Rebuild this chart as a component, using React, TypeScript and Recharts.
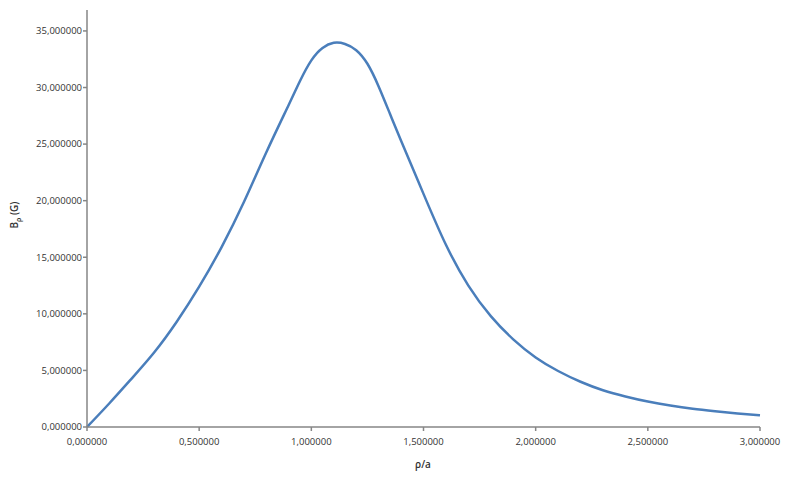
import { LineChart, Line, XAxis, YAxis, Label } from "recharts";

// ρ/a positions and the field B_ρ (G)
const rhoOverA = [
  0, 0.1, 0.2, 0.3, 0.4, 0.5, 0.6, 0.7, 0.8, 0.9, 0.95, 1.0, 1.05, 1.1, 1.15,
  1.2, 1.25, 1.3, 1.35, 1.4, 1.5, 1.6, 1.7, 1.8, 1.9, 2.0, 2.1, 2.2, 2.3, 2.4,
  2.5, 2.6, 2.7, 2.8, 2.9, 3.0,
];
const bRho = [
  0, 2.1, 4.3, 6.6, 9.3, 12.4, 15.9, 19.9, 24.3, 28.5, 30.6, 32.4, 33.5, 33.95,
  33.85, 33.3, 32.1, 30.1, 27.7, 25.3, 20.6, 16.1, 12.5, 9.8, 7.75, 6.15, 4.95,
  4.0, 3.25, 2.7, 2.25, 1.9, 1.62, 1.4, 1.2, 1.03,
];

const xTicks = [0, 0.5, 1, 1.5, 2, 2.5, 3];
const yTicks = [0, 5, 10, 15, 20, 25, 30, 35];

const data = rhoOverA.map((x, i) => ({ x, b: bRho[i] }));

const fmt = (v: number) => v.toFixed(6).replace(".", ",");

const FONT = "'Open Sans', sans-serif";
const AXIS = "#868686";
const TEXT = "#333333";

export default function App() {
  return (
    <div style={{ position: "absolute", left: 0, top: 0, width: 785, height: 477, background: "#fff" }}>
      <LineChart width={785} height={477} data={data} margin={{ top: 10, right: 25, bottom: 0, left: 0 }}>
        <XAxis
          dataKey="x"
          type="number"
          domain={[0, 3]}
          ticks={xTicks}
          tickFormatter={fmt}
          height={50}
          stroke={AXIS}
          strokeWidth={1.5}
          tickSize={4}
          tickMargin={7}
          tick={{ fill: TEXT, fontSize: 9.5, fontFamily: FONT }}
          interval={0}
        >
          <Label
            content={() => (
              <text
                x={423}
                y={468}
                textAnchor="middle"
                fill={TEXT}
                fontSize={10}
                fontFamily={FONT}
                fontWeight={600}
              >
                ρ/a
              </text>
            )}
          />
        </XAxis>
        <YAxis
          type="number"
          domain={[0, 36.85]}
          ticks={yTicks}
          tickFormatter={fmt}
          width={87}
          stroke={AXIS}
          strokeWidth={1.5}
          tickSize={4}
          tickMargin={1}
          tick={{ fill: TEXT, fontSize: 9.5, fontFamily: FONT }}
          interval={0}
        >
          <Label
            content={() => (
              <text
                x={18}
                y={215}
                transform="rotate(-90 18 215)"
                textAnchor="middle"
                fill={TEXT}
                fontSize={10}
                fontFamily={FONT}
                fontWeight={600}
              >
                B<tspan fontSize={7} dy={3}>ρ</tspan>
                <tspan dy={-3}> (G)</tspan>
              </text>
            )}
          />
        </YAxis>
        <Line
          type="natural"
          dataKey="b"
          stroke="#4a7ebb"
          strokeWidth={2.5}
          dot={false}
          isAnimationActive={false}
        />
      </LineChart>
    </div>
  );
}
